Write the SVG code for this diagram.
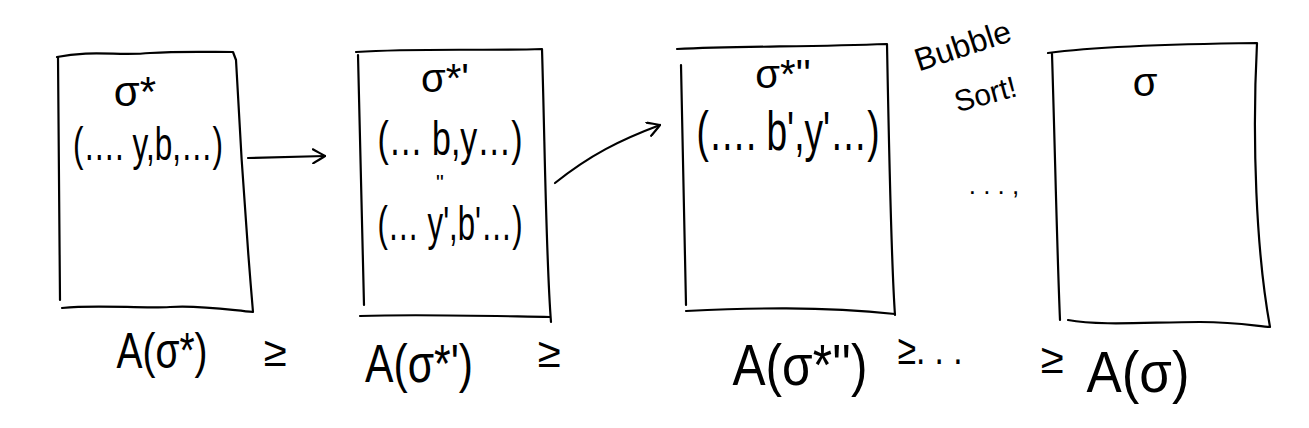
<svg xmlns="http://www.w3.org/2000/svg" width="1309" height="428" viewBox="0 0 1309 428">
<style>
.t{font-family:"Liberation Sans","DejaVu Sans",sans-serif;fill:#000;text-anchor:middle}
.s{fill:none;stroke:#000;stroke-width:2.2;stroke-linecap:round;stroke-linejoin:round}
</style>
<defs>
<marker id="ah" viewBox="0 0 14 16" refX="13" refY="8" markerWidth="14" markerHeight="16" markerUnits="userSpaceOnUse" orient="auto">
<path d="M1,1 C6,4 10,6 13,8 C10,10 6,12 1,15" fill="none" stroke="#000" stroke-width="2.2" stroke-linecap="round"/>
</marker>
</defs>
<rect width="1309" height="428" fill="#fff"/>
<g id="node-sigma-star">
<path class="s" d="M57,57 C90,50 120,56 150,53 C180,51 210,52 233,52 L236,60 C240,140 246,230 253,312 M58,57 L60,300 M62,308 C100,304 140,309 170,307 C200,305 230,310 253,312"/>
<text class="t" x="135" y="106" font-size="42">σ*</text>
<text class="t" x="148" y="160" font-size="46" textLength="150" lengthAdjust="spacingAndGlyphs">(…. y,b,…)</text>
</g>
<g id="node-sigma-star-prime">
<path class="s" d="M356,52 C420,48 480,51 542,49 C545,150 546,260 551,322 M358,55 L364,305 M360,316 C420,314 490,316 550,317"/>
<text class="t" x="445" y="92" font-size="40">σ*'</text>
<text class="t" x="450" y="155" font-size="48" textLength="145" lengthAdjust="spacingAndGlyphs">(… b,y…)</text>
<text class="t" x="440" y="190" font-size="22">"</text>
<text class="t" x="450" y="240" font-size="48" textLength="145" lengthAdjust="spacingAndGlyphs">(… y',b'…)</text>
</g>
<g id="node-sigma-star-2prime">
<path class="s" d="M677,49 C740,46 810,47 887,44 C889,150 891,260 895,315 M681,65 L686,305 M686,311 C750,308 820,306 895,314"/>
<text class="t" x="783" y="88" font-size="40">σ*''</text>
<text class="t" x="788" y="150" font-size="56" textLength="183" lengthAdjust="spacingAndGlyphs">(…. b',y'…)</text>
</g>
<g id="node-sigma">
<path class="s" d="M1048,53 C1100,46 1180,44 1257,43 C1252,140 1256,250 1270,327 M1052,54 C1055,150 1057,250 1060,320 M1068,320 C1100,326 1150,322 1200,322 C1240,322 1260,327 1270,327"/>
<text class="t" x="1145" y="96" font-size="40">σ</text>
</g>
<g id="annotations">
<text class="t" transform="translate(966,56) rotate(-18)" font-size="32">Bubble</text>
<text class="t" transform="translate(988,104) rotate(-15)" font-size="30">Sort!</text>
<text class="t" x="994" y="194" font-size="26">. . . ,</text>
<text class="t" x="162" y="368" font-size="50" textLength="91" lengthAdjust="spacingAndGlyphs">A(σ*)</text>
<text class="t" x="275" y="366" font-size="42">≥</text>
<text class="t" x="419" y="382" font-size="54" textLength="108" lengthAdjust="spacingAndGlyphs">A(σ*')</text>
<text class="t" x="549" y="367" font-size="42">≥</text>
<text class="t" x="800" y="385" font-size="58" textLength="135" lengthAdjust="spacingAndGlyphs">A(σ*'')</text>
<text class="t" x="930" y="364" font-size="42" textLength="65" lengthAdjust="spacingAndGlyphs">≥. . .</text>
<text class="t" x="1052" y="373" font-size="42">≥</text>
<text class="t" x="1138" y="392" font-size="58" textLength="103" lengthAdjust="spacingAndGlyphs">A(σ)</text>
</g>
<g id="connectors">
<path class="s" d="M248,158 L325,156" marker-end="url(#ah)"/>
<path class="s" d="M555,183 C590,155 620,140 660,125" marker-end="url(#ah)"/>
</g>
</svg>
